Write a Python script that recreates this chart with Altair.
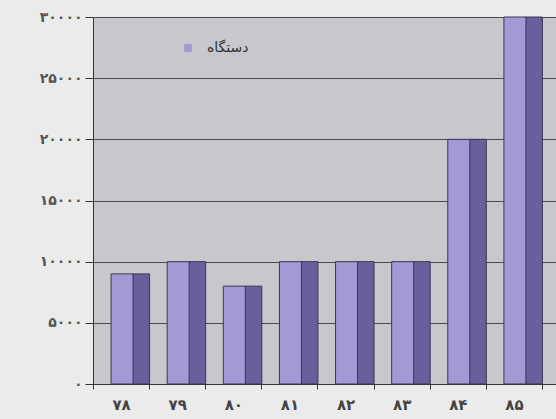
import altair as alt
import pandas as pd

years = ["۷۸", "۷۹", "۸۰", "۸۱", "۸۲", "۸۳", "۸۴", "۸۵"]
values = [9000, 10000, 8000, 10000, 10000, 10000, 20000, 30000]
series_name = "دستگاه"
y_ticks = [0, 5000, 10000, 15000, 20000, 25000, 30000]
y_tick_labels = ["۰", "۵۰۰۰", "۱۰۰۰۰", "۱۵۰۰۰", "۲۰۰۰۰", "۲۵۰۰۰", "۳۰۰۰۰"]

df = pd.DataFrame({"year": years, "value": values, "series": [series_name] * len(years)})

expr = "''"
for v, lab in reversed(list(zip(y_ticks, y_tick_labels))):
    expr = f"datum.value == {v} ? '{lab}' : ({expr})"

x_enc = alt.X(
    "year:N",
    sort=years,
    scale=alt.Scale(paddingInner=0, paddingOuter=0.125, align=0),
    axis=alt.Axis(
        title=None, tickBand="extent", labelAngle=0, domainColor="#333333",
        tickColor="#333333", tickSize=5, labelFont="DejaVu Sans", labelFontSize=15,
        labelFontWeight="bold", labelColor="#444444", labelPadding=8, grid=False,
    ),
)
y_enc = alt.Y(
    "value:Q",
    scale=alt.Scale(domain=[0, 30000], nice=False),
    axis=alt.Axis(
        title=None, values=y_ticks, labelExpr=expr, grid=True, gridColor="#4a4a4a",
        gridWidth=1, domainColor="#333333", tickColor="#333333", tickSize=8,
        labelFont="DejaVu Sans", labelFontSize=14, labelFontWeight="bold",
        labelColor="#555555", labelPadding=3,
    ),
)

base = alt.Chart(df)
side = base.mark_bar(width=17, xOffset=20, color="#6a5f9c", stroke="#3a3650", strokeWidth=1).encode(
    x=x_enc, y=y_enc
)
front = base.mark_bar(width=22, xOffset=1, stroke="#3a3650", strokeWidth=1).encode(
    x=x_enc,
    y=y_enc,
    fill=alt.Fill(
        "series:N",
        scale=alt.Scale(range=["#a29ad4"]),
        legend=alt.Legend(
            title=None, orient="none", legendX=88, legendY=24, symbolType="square",
            symbolSize=60, symbolStrokeWidth=0, labelFont="DejaVu Sans",
            labelFontSize=14, labelColor="#333333", labelOffset=12,
        ),
    ),
)

chart = (
    alt.layer(side, front)
    .properties(
        width=463, height=367, background="#ebebeb",
        padding={"left": 93, "top": 17, "right": 0, "bottom": 35},
        autosize=alt.AutoSizeParams(type="none"),
    )
    .configure_view(fill="#c8c8cc", stroke=None)
)

chart.save("out.html", embed_options={"renderer": "svg", "actions": False})
